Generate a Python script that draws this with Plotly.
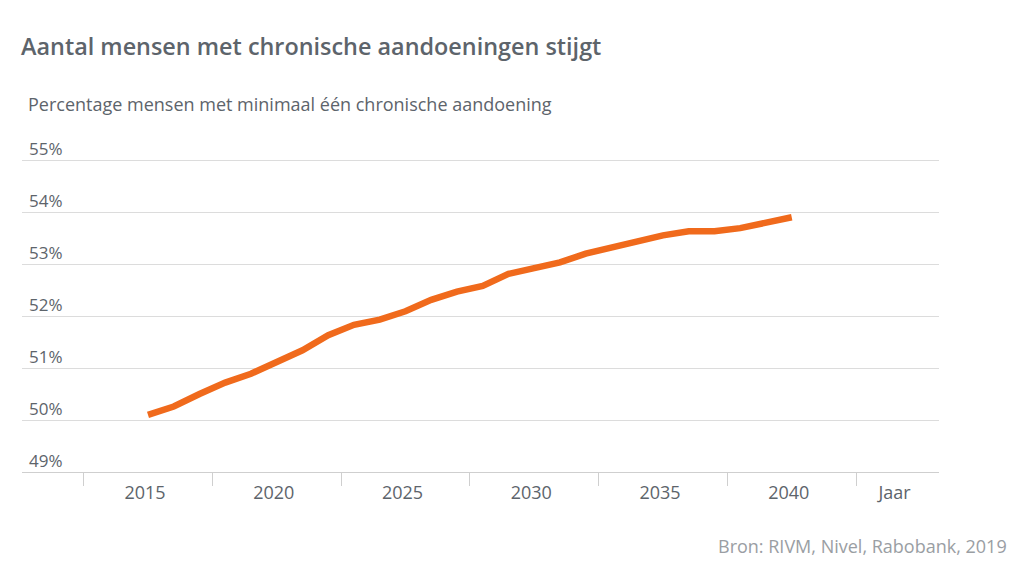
import plotly.graph_objects as go

# Data
years = list(range(2015, 2041))
values = [50.10, 50.26, 50.50, 50.72, 50.89, 51.12, 51.34, 51.63, 51.83, 51.93,
          52.09, 52.31, 52.47, 52.58, 52.81, 52.92, 53.03, 53.20, 53.32, 53.44,
          53.55, 53.63, 53.63, 53.69, 53.79, 53.90]

x_tick_vals = [2015, 2020, 2025, 2030, 2035, 2040, 2044.11]
x_tick_text = ["2015", "2020", "2025", "2030", "2035", "2040", "Jaar"]
y_tick_vals = [49, 50, 51, 52, 53, 54, 55]
y_tick_text = ["49%", "50%", "51%", "52%", "53%", "54%", "55%"]

title = "Aantal mensen met chronische aandoeningen stijgt"
subtitle = "Percentage mensen met minimaal één chronische aandoening"
source = "Bron: RIVM, Nivel, Rabobank, 2019"

FONT = "Open Sans"
TXT = "#5d646b"
GRID = "#dcdcdc"
ORANGE = "#f06a1c"

TOP = 157
PLOT_H = 472 - TOP
Y_MAX = 49 + PLOT_H / 52

fig = go.Figure()
fig.add_trace(go.Scatter(
    x=years, y=values, mode="lines",
    line=dict(color=ORANGE, width=6.5),
    hoverinfo="skip", showlegend=False,
))

annotations = [
    dict(text=t, xref="paper", yref="y", x=0, xshift=5, y=v, yshift=12,
         xanchor="left", yanchor="middle", showarrow=False,
         font=dict(family=FONT, size=17, color=TXT))
    for v, t in zip(y_tick_vals, y_tick_text)
]
annotations += [
    dict(text=subtitle, xref="paper", yref="paper", x=0, xshift=4,
         y=1 + (TOP - 104) / PLOT_H, xanchor="left", yanchor="middle",
         showarrow=False, font=dict(family=FONT, size=18, color=TXT)),
    dict(text=source, xref="paper", yref="paper", x=(1009 - 22) / 917,
         y=(472 - 546) / PLOT_H, xanchor="right", yanchor="middle",
         showarrow=False, font=dict(family=FONT, size=18, color="#9a9ea3")),
]

fig.update_layout(
    width=1024, height=567,
    margin=dict(l=22, r=85, t=TOP, b=95),
    paper_bgcolor="white", plot_bgcolor="white",
    font=dict(family=FONT, color=TXT),
    title=dict(
        text=title, x=21 / 1024, xanchor="left", xref="container",
        y=1 - 47 / 567, yanchor="middle", yref="container",
        font=dict(family=FONT, size=23.4, color=TXT, weight=600),
    ),
    xaxis=dict(
        range=[2010.107, 2045.72],
        tickmode="array", tickvals=x_tick_vals, ticktext=x_tick_text,
        ticks="", showgrid=False, zeroline=False,
        showline=True, linecolor="#cfcfcf", linewidth=1,
        tickfont=dict(family=FONT, size=18, color=TXT),
        ticklabelstandoff=4, ticklabelshift=-3,
        minor=dict(tickmode="linear", tick0=2012.5, dtick=5,
                   ticks="outside", ticklen=13, tickcolor="#cfcfcf", tickwidth=1,
                   showgrid=False),
    ),
    yaxis=dict(
        range=[49, Y_MAX],
        tickmode="array", tickvals=y_tick_vals, ticktext=y_tick_text,
        showticklabels=False,
        showgrid=True, gridcolor=GRID, gridwidth=1,
        zeroline=False, showline=False, ticks="",
    ),
    annotations=annotations,
)

fig.write_html("out.html")
